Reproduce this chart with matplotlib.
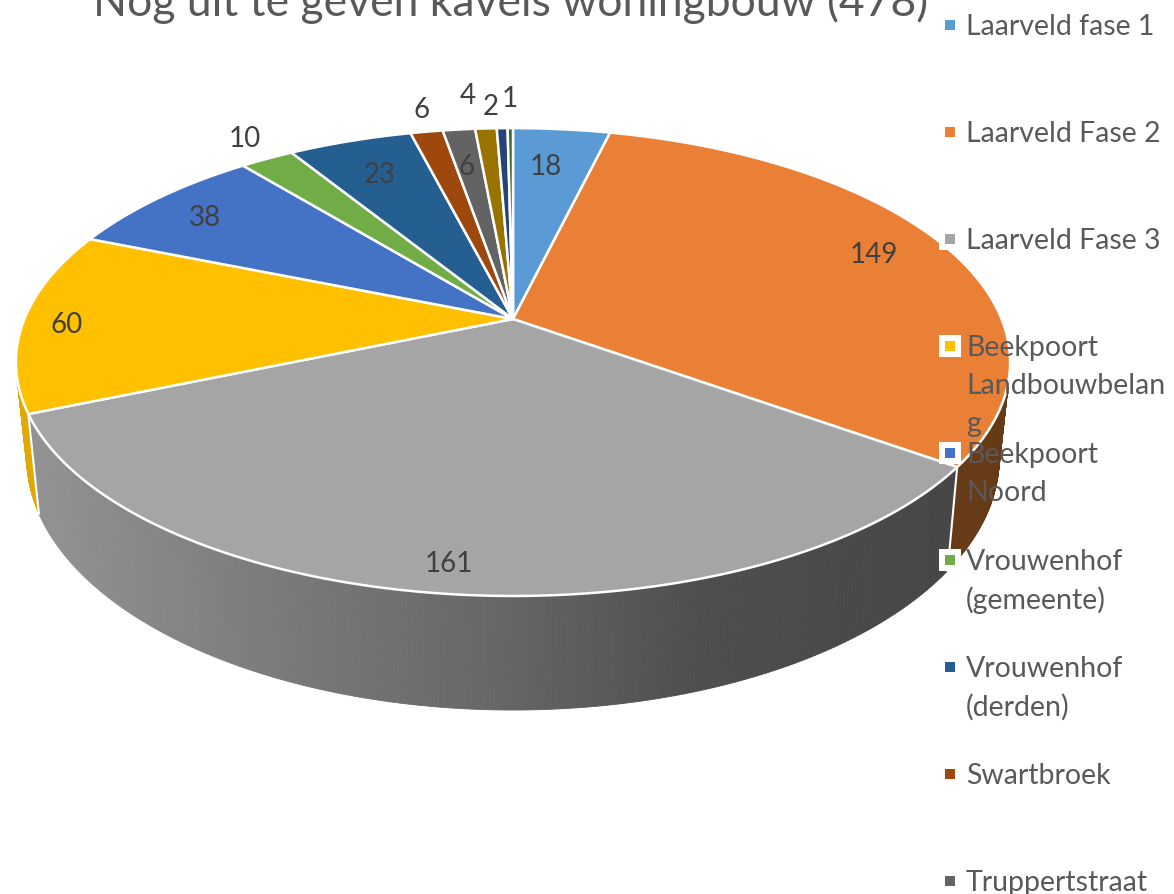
import numpy as np
import matplotlib
matplotlib.use('Agg')
import matplotlib.pyplot as plt

# ----------------------------------
# Data
# ----------------------------------

title = 'Nog uit te geven kavels woningbouw (478)'
values = [18, 149, 161, 60, 38, 10, 23, 6, 6, 4, 2, 1]
colors = ['#5B9BD5', '#EA8035', '#A5A5A5', '#FFC000', '#4472C4', '#70AD47',
          '#255E91', '#9E480E', '#636363', '#997300', '#264478', '#43682B']
legend_names = ['Laarveld fase 1', 'Laarveld Fase 2', 'Laarveld Fase 3',
                'Beekpoort\nLandbouwbelan\ng', 'Beekpoort\nNoord',
                'Vrouwenhof\n(gemeente)', 'Vrouwenhof\n(derden)',
                'Swartbroek', 'Truppertstraat']

# radial place and angle shift of each data label
label_r = [0.78, 0.84, 0.904, 0.912, 0.85, 1.144, 0.796, 1.15, 0.786, 1.224, 1.148, 1.2]
label_shift = [-1.2, -1.3, 0.6, -0.6, -0.6, 1.1, 0, 0.7, -0.4, -1.6, -1.2, 0]

TEXT_COLOR = '#595959'
LABEL_COLOR = '#404040'
FONT = ['Lato', 'DejaVu Sans']

# ----------------------------------
# Perspective of the top and bottom plane of the pie
# ----------------------------------

K = 0.184

def project(angle, r=1.0, plane='top'):
    rad = np.radians(angle)
    u = r * np.sin(rad)
    v = r * np.cos(rad)
    w = 1 + K * v
    if plane == 'top':
        return 513 + 488.6 * u / w, 319 - 226 * v / w
    return 513 + 478 * u / w, 411 - 244 * v / w

def wall_gray(x):
    level = np.interp(x, [30, 300, 500, 700, 950], [0x92, 0x78, 0x66, 0x4e, 0x46])
    return (level / 255, level / 255, level / 255)

fig = plt.figure(figsize=(11.74, 8.94), dpi=100)
ax = fig.add_axes([0, 0, 1, 1])
ax.set_xlim(0, 1174)
ax.set_ylim(894, 0)
ax.axis('off')

edges = np.concatenate([[0], np.cumsum(values)]) / sum(values) * 360

# ----------------------------------
# Side walls
# ----------------------------------

def draw_wall(start, end, color_func):
    steps = np.arange(start, end + 0.5, 0.5)
    for a, b in zip(steps[:-1], steps[1:]):
        xt, yt = project(np.array([a, b]))
        xb, yb = project(np.array([b, a]), plane='bottom')
        c = color_func((xt[0] + xt[1]) / 2)
        ax.fill(np.concatenate([xt, xb]), np.concatenate([yt, yb]),
                facecolor=c, edgecolor=c, linewidth=0.6, zorder=1)

draw_wall(95, edges[2], lambda x: '#663A16')
draw_wall(edges[3], 270, lambda x: '#E0A800')
draw_wall(edges[2], edges[3], wall_gray)

for edge in [edges[2], edges[3]]:
    xt, yt = project(edge)
    xb, yb = project(edge, plane='bottom')
    ax.plot([xt, xb], [yt, yb], color='white', linewidth=1.5, zorder=2)

# ----------------------------------
# Top face
# ----------------------------------

for start, end, color in zip(edges[:-1], edges[1:], colors):
    arc = np.linspace(start, end, max(int(end - start) * 2, 4))
    x_rim, y_rim = project(arc)
    x0, y0 = project(0, 0)
    ax.fill(np.concatenate([[x0], x_rim]), np.concatenate([[y0], y_rim]),
            facecolor=color, edgecolor='white', linewidth=1.8, joinstyle='round', zorder=3)

# ----------------------------------
# Data labels
# ----------------------------------

mids = (edges[:-1] + edges[1:]) / 2
for val, mid, r, shift in zip(values, mids, label_r, label_shift):
    x, y = project(mid + shift, r)
    ax.text(x, y + 2, str(val), ha='center', va='center', fontsize=20,
            color=LABEL_COLOR, family=FONT, zorder=4)

# ----------------------------------
# Title and legend
# ----------------------------------

ax.text(511, 16, title, ha='center', va='baseline', fontsize=32,
        color=TEXT_COLOR, family=FONT, zorder=5)

for i, name in enumerate(legend_names):
    y = 25 + 107 * i
    ax.scatter([950], [y], marker='s', s=270, color='white', linewidths=0, zorder=5)
    ax.scatter([950], [y], marker='s', s=62, color=colors[i], linewidths=0, zorder=6)
    for j, line in enumerate(name.split('\n')):
        ax.text(966, y + 2 + 38 * j, line, ha='left', va='center', fontsize=20.5,
                color=TEXT_COLOR, family=FONT, zorder=7)

fig.savefig('out.png', dpi=100)
